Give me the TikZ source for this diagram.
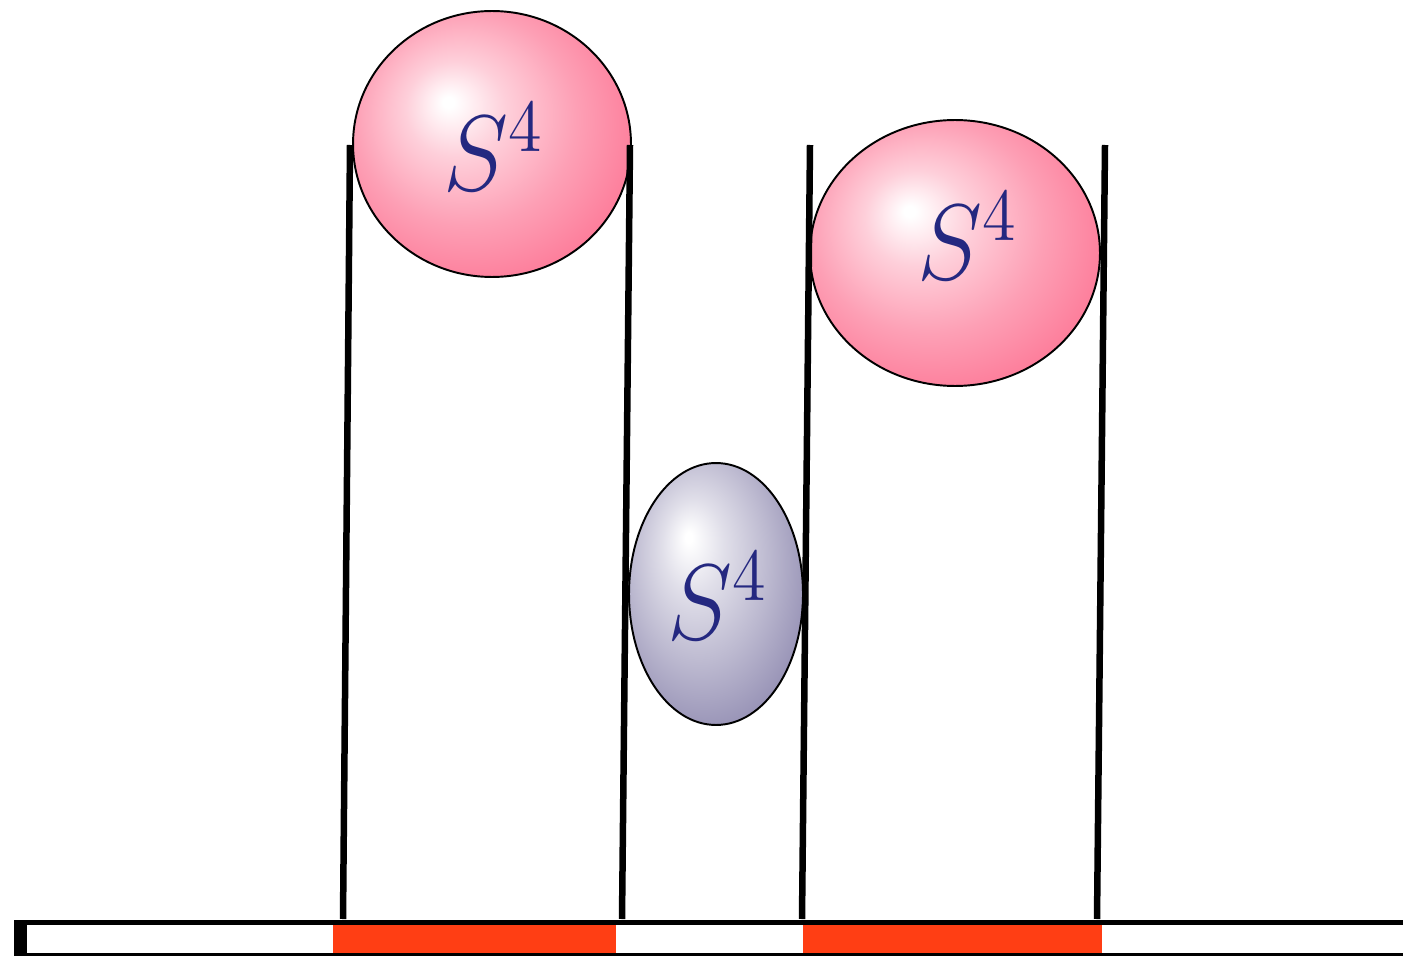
\documentclass[tikz,border=0pt]{standalone}
\usepackage{graphicx}
\usepackage{xcolor}
\usepackage{tikz}
\usetikzlibrary{shapes.geometric, positioning, calc}
\definecolor{spk}{RGB}{252,96,132}
\definecolor{sbl}{RGB}{126,120,164}
\definecolor{labblue}{RGB}{36,40,128}
\definecolor{stripred}{RGB}{255,62,20}
\pgfdeclareradialshading{pinkball}{\pgfqpoint{-8bp}{8bp}}{%
  color(0bp)=(white); color(1bp)=(white); color(9bp)=(spk!30!white);
  color(20bp)=(spk!60!white); color(38bp)=(spk); color(50bp)=(spk)}
\pgfdeclareradialshading{blueball}{\pgfqpoint{-8bp}{11bp}}{%
  color(0bp)=(white); color(1bp)=(white); color(9bp)=(sbl!24!white);
  color(20bp)=(sbl!52!white); color(38bp)=(sbl); color(50bp)=(sbl)}
\tikzset{
  sph/.style  ={ellipse, draw=black, line width=1.1pt, inner sep=0pt},
  sphp/.style ={sph, shading=pinkball},
  sphb/.style ={sph, shading=blueball},
  lbl/.style  ={text=labblue, inner sep=0pt,
                font=\fontsize{20}{24}\selectfont},
  leg/.style  ={line width=3.7pt, draw=black},
  seg/.style  ={fill=stripred, draw=none},
}
\newcommand{\sfour}{\scalebox{2.7}[2.95]{$S^4$}}

\begin{document}
\begin{tikzpicture}[x=0.02cm, y=-0.02cm]
\useasboundingbox (0,0) rectangle (1403,956);
% the bar at the bottom
\fill[black] (14,920) rectangle (1403,956);
\fill[white] (27,925) rectangle (1403,953);
\fill[seg] (333,925) rectangle (616,953);
\fill[seg] (803,925) rectangle (1102,953);
% spheres
\node[sphp, minimum width=5.56cm, minimum height=5.32cm] (s1) at (492,144) {};
\node[sphp, minimum width=5.80cm, minimum height=5.32cm] (s2) at (955,253) {};
\node[sphb, minimum width=3.48cm, minimum height=5.24cm] (s3) at (716,594) {};
\node[lbl] (l1) at ([xshift=0.03cm,yshift=-0.06cm]s1.center) {\sfour};
\node[lbl] (l2) at ([xshift=0.26cm,yshift=0.34cm]s2.center) {\sfour};
\node[lbl] (l3) at ([xshift=0.03cm,yshift=-0.04cm]s3.center) {\sfour};
% legs
\coordinate (a1) at (350,145); \coordinate (b1) at (343,919);
\coordinate (a2) at (630,145); \coordinate (b2) at (622,919);
\coordinate (a3) at (810,145); \coordinate (b3) at (802,919);
\coordinate (a4) at (1105,145); \coordinate (b4) at (1097,919);
\foreach \i in {1,...,4}
  \draw[leg] (a\i) -- (b\i);
\end{tikzpicture}
\end{document}
